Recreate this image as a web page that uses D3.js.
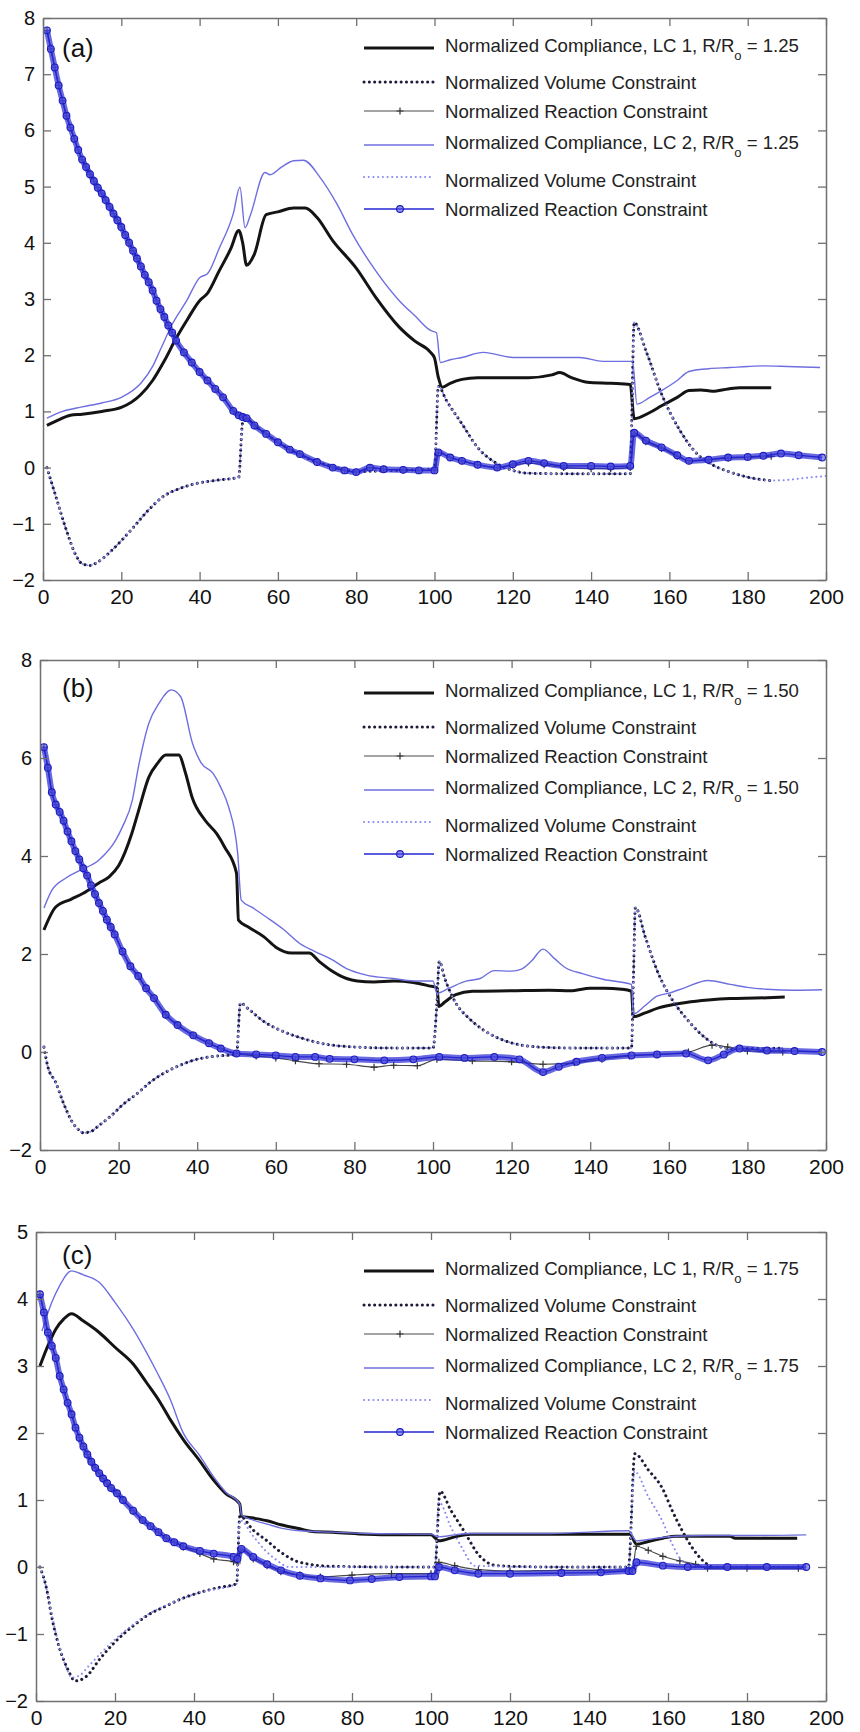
<!DOCTYPE html>
<html>
<head>
<meta charset="utf-8">
<script src="https://cdn.jsdelivr.net/npm/d3@7"></script>
<style>
  body { margin: 0; background: #fff; }
  svg { display: block; font-family: "Liberation Sans", Arial, sans-serif; }
</style>
</head>
<body>
<div id="chart"></div>
<script>
// ---- data: [iteration, normalized value] ----

// panel (a), R/Ro = 1.25
const aComp1 = [[1,0.75],[4,0.85],[7,0.93],[10,0.95],[15,1.0],[20,1.07],[25,1.3],[28,1.55],[31,1.9],[34,2.3],[37,2.65],[40,2.97],[42,3.1],[45,3.5],[48,3.9],[50,4.22],[51,4.0],[52,3.6],[54,3.8],[57,4.5],[60,4.55],[64,4.62],[67,4.62],[70,4.45],[74,4.04],[80,3.55],[85,3.03],[91,2.5],[95,2.25],[99,2.05],[100,1.95],[101,1.6],[102,1.43],[104,1.5],[107,1.57],[111,1.6],[118,1.6],[124,1.6],[130,1.65],[132,1.69],[135,1.6],[139,1.52],[145,1.5],[150,1.48],[151,0.87],[155,0.98],[158,1.1],[162,1.25],[165,1.37],[168,1.38],[171,1.36],[175,1.4],[178,1.42],[182,1.42],[186,1.42]];
const aVol1 = [[1,0],[3,-0.45],[6,-1.12],[8,-1.5],[10,-1.71],[12,-1.74],[14,-1.68],[17,-1.51],[20,-1.3],[23,-1.07],[27,-0.75],[31,-0.5],[35,-0.37],[40,-0.27],[45,-0.22],[50,-0.17],[51,0.8],[52,0.85],[55,0.7],[60,0.45],[65,0.25],[70,0.1],[75,0.0],[80,-0.07],[90,-0.05],[100,-0.03],[101,1.45],[103,1.2],[107,0.78],[111,0.36],[116,0.07],[120,-0.05],[124,-0.1],[135,-0.11],[150,-0.11],[151,2.58],[154,2.08],[158,1.31],[162.7,0.66],[167,0.25],[171,0.05],[175.5,-0.08],[180,-0.17],[185.7,-0.23]];
const aReact1 = [[1,7.78],[2,7.45],[3,7.12],[4,6.8],[5,6.53],[6,6.26],[7,6.05],[8,5.85],[9,5.65],[10,5.48],[11,5.35],[12,5.22],[13,5.1],[14,4.98],[15,4.88],[16,4.76],[17,4.64],[18,4.52],[19,4.4],[20,4.28],[21,4.14],[22,4.0],[23,3.86],[24,3.72],[25,3.58],[26,3.43],[27,3.3],[28,3.15],[29,2.97],[30,2.82],[31,2.68],[32,2.53],[33,2.4],[34,2.26],[36,2.05],[38,1.87],[40,1.7],[42,1.55],[44,1.4],[46,1.25],[48.6,1.01],[50,0.93],[51,0.9],[52,0.88],[54,0.75],[57,0.6],[60,0.45],[63,0.32],[65.6,0.24],[70,0.1],[74,0.0],[77,-0.05],[80,-0.08],[83.5,0.0],[87,-0.03],[92,-0.04],[96,-0.05],[100,-0.05],[101,0.27],[104,0.18],[107,0.12],[111,0.05],[116,0.0],[120,0.04],[124,0.08],[128,0.05],[133,0.0],[140,-0.02],[145,-0.02],[150,0.0],[151,0.6],[154,0.46],[158,0.34],[162,0.2],[165,0.12],[170,0.14],[175,0.17],[180,0.18],[186,0.2]];
const aComp2 = [[1,0.88],[5,1.0],[10,1.08],[15,1.15],[20,1.25],[25,1.5],[28,1.8],[30,2.1],[33,2.55],[36.7,2.97],[40,3.38],[42,3.45],[45,3.9],[48.6,4.52],[50.3,4.99],[51.6,4.27],[53,4.5],[56.7,5.25],[58,5.21],[61,5.35],[64,5.46],[66.5,5.47],[70.8,5.16],[75,4.7],[79,4.16],[85,3.5],[91,2.97],[95,2.7],[99,2.44],[100.5,2.4],[101.5,1.87],[104,1.92],[107,1.96],[112.5,2.05],[120,1.96],[130,1.96],[137,1.96],[143,1.89],[150.6,1.89],[151.7,1.13],[155,1.25],[158,1.37],[162,1.55],[165,1.71],[170,1.76],[175.5,1.78],[180,1.8],[184,1.81],[190,1.8],[198.5,1.78]];
const aVol2 = [[1,0],[3,-0.45],[6,-1.12],[8,-1.5],[10,-1.71],[12,-1.74],[14,-1.68],[17,-1.51],[20,-1.3],[23,-1.07],[27,-0.75],[31,-0.5],[35,-0.37],[40,-0.27],[45,-0.22],[50,-0.17],[51,0.8],[52,0.85],[55,0.7],[60,0.45],[65,0.25],[70,0.1],[75,0.0],[80,-0.07],[90,-0.05],[100,-0.03],[101,1.45],[103,1.2],[107,0.78],[111,0.36],[116,0.07],[120,-0.05],[124,-0.1],[135,-0.11],[150,-0.11],[151,2.58],[154,2.08],[158,1.31],[162.7,0.66],[167,0.25],[171,0.05],[175.5,-0.08],[180,-0.17],[185.7,-0.23],[190,-0.22],[195,-0.18],[200,-0.15]];
const aReact2 = [[1,7.78],[2,7.45],[3,7.12],[4,6.8],[5,6.53],[6,6.26],[7,6.05],[8,5.85],[9,5.65],[10,5.48],[11,5.35],[12,5.22],[13,5.1],[14,4.98],[15,4.88],[16,4.76],[17,4.64],[18,4.52],[19,4.4],[20,4.28],[21,4.14],[22,4.0],[23,3.86],[24,3.72],[25,3.58],[26,3.43],[27,3.3],[28,3.15],[29,2.97],[30,2.82],[31,2.68],[32,2.53],[33,2.4],[34,2.26],[36,2.05],[38,1.87],[40,1.7],[42,1.55],[44,1.4],[46,1.25],[48.6,1.01],[50,0.93],[51,0.9],[52,0.88],[54,0.75],[57,0.6],[60,0.45],[63,0.32],[65.6,0.24],[70,0.1],[74,0.0],[77,-0.05],[80,-0.08],[83.5,0.0],[87,-0.03],[92,-0.04],[96,-0.05],[100,-0.05],[101,0.27],[104,0.18],[107,0.12],[111,0.05],[116,0.0],[120,0.06],[124,0.12],[128,0.08],[133,0.03],[140,0.03],[145,0.02],[150,0.03],[151,0.62],[154,0.48],[158,0.36],[162,0.22],[165,0.12],[170,0.14],[175,0.18],[180,0.19],[184,0.21],[188.5,0.25],[193,0.22],[199,0.18]];

// panel (b), R/Ro = 1.50
const bComp1 = [[1,2.49],[4,2.96],[8,3.12],[11,3.24],[15,3.45],[17.5,3.57],[20,3.8],[23.4,4.47],[25,4.9],[27.7,5.61],[30,5.9],[32,6.06],[35.3,6.06],[37,5.7],[38.7,5.2],[42,4.73],[45,4.45],[47,4.18],[50,3.65],[50.5,2.69],[53,2.55],[57,2.35],[60,2.14],[64,2.02],[68.5,2.02],[71,1.85],[74,1.67],[78,1.5],[80.7,1.45],[85,1.43],[90,1.45],[95,1.42],[99,1.35],[101,1.31],[101.5,0.93],[103,1.02],[105.8,1.17],[110,1.24],[120,1.25],[129.5,1.26],[135,1.25],[140,1.3],[143.5,1.3],[148,1.28],[150.5,1.24],[151,0.72],[154,0.8],[157.4,0.9],[160,0.95],[164.4,1.01],[170,1.06],[175.6,1.09],[182,1.1],[189.5,1.12]];
const bVol1 = [[1,0.1],[2,-0.3],[4,-0.62],[6,-1.05],[8,-1.4],[10,-1.6],[11,-1.65],[13,-1.62],[15,-1.5],[18,-1.31],[21,-1.08],[25,-0.83],[28,-0.62],[32,-0.41],[36,-0.26],[39,-0.17],[44,-0.09],[50,-0.05],[51,1.0],[53,0.88],[57,0.62],[61,0.45],[66.7,0.28],[72,0.17],[80.7,0.1],[90,0.08],[100,0.08],[101,1.0],[101.6,1.85],[103,1.5],[105.8,1.0],[109,0.7],[112.8,0.45],[117,0.27],[122.5,0.14],[130,0.09],[136.5,0.08],[150.5,0.08],[151,1.5],[151.5,2.95],[154,2.35],[157.4,1.59],[161,1.05],[164.4,0.69],[168,0.38],[171.4,0.17],[175.6,0.07],[182,0.07],[189,0.08]];
const bReact1 = [[1,6.22],[2,5.8],[3,5.3],[4,5.05],[5,4.9],[6,4.72],[7,4.5],[8,4.3],[9,4.1],[10,3.93],[11,3.75],[12,3.6],[13,3.4],[14,3.22],[15,3.04],[16,2.88],[17,2.7],[18,2.55],[19,2.4],[21,2.05],[23,1.75],[25,1.55],[27,1.3],[29,1.1],[32,0.76],[35,0.55],[39,0.34],[43,0.18],[46,0.07],[50,-0.03],[55,-0.08],[60,-0.12],[65,-0.18],[71,-0.24],[78,-0.25],[85,-0.31],[90,-0.27],[96,-0.28],[101,-0.15],[110,-0.18],[120,-0.2],[128,-0.25],[136,-0.22],[143,-0.15],[150,-0.08],[157,-0.05],[165,0.0],[171,0.14],[175,0.1],[180,0.02],[189,0.0]];
const bComp2 = [[1,2.94],[3,3.3],[6.6,3.55],[10,3.7],[15,3.92],[19.3,4.33],[21,4.6],[23.5,5.14],[25,5.8],[27.7,6.71],[30.3,7.12],[33.4,7.39],[35.8,7.25],[38.8,6.3],[41,5.9],[44,5.69],[46,5.4],[48,5.0],[50.3,4.06],[51.2,3.1],[54,2.95],[57.5,2.76],[62,2.5],[66,2.22],[70,2.05],[74.4,1.88],[78,1.7],[83,1.57],[90,1.5],[95,1.45],[100,1.45],[101,1.2],[104,1.3],[108.6,1.45],[112,1.5],[115.6,1.66],[120,1.65],[122.5,1.69],[125,1.85],[128,2.1],[131,1.9],[133.7,1.72],[138,1.6],[143.5,1.48],[150.5,1.38],[151,0.78],[154,0.95],[157,1.14],[160,1.2],[164,1.31],[170,1.46],[175.6,1.38],[180,1.32],[185,1.28],[192,1.26],[199,1.27]];
const bVol2 = [[1,0.1],[2,-0.3],[4,-0.62],[6,-1.05],[8,-1.4],[10,-1.6],[11,-1.65],[13,-1.62],[15,-1.5],[18,-1.31],[21,-1.08],[25,-0.83],[28,-0.62],[32,-0.41],[36,-0.26],[39,-0.17],[44,-0.09],[50,-0.05],[51,1.0],[53,0.88],[57,0.62],[61,0.45],[66.7,0.28],[72,0.17],[80.7,0.1],[90,0.08],[100,0.08],[101,1.0],[101.6,1.85],[103,1.5],[105.8,1.0],[109,0.7],[112.8,0.45],[117,0.27],[122.5,0.14],[130,0.09],[136.5,0.08],[150.5,0.08],[151,1.5],[151.5,2.95],[154,2.35],[157.4,1.59],[161,1.05],[164.4,0.69],[168,0.38],[171.4,0.17],[175.6,0.07],[182,0.07],[189,0.08]];
const bReact2 = [[1,6.22],[2,5.8],[3,5.3],[4,5.05],[5,4.9],[6,4.72],[7,4.5],[8,4.3],[9,4.1],[10,3.93],[11,3.75],[12,3.6],[13,3.4],[14,3.22],[15,3.04],[16,2.88],[17,2.7],[18,2.55],[19,2.4],[21,2.05],[23,1.75],[25,1.55],[27,1.3],[29,1.1],[32,0.76],[35,0.55],[39,0.34],[43,0.18],[46,0.07],[50,-0.03],[55,-0.05],[60,-0.07],[65,-0.1],[70,-0.1],[73.7,-0.14],[80,-0.15],[87.6,-0.17],[95,-0.15],[101.6,-0.1],[108,-0.12],[115.6,-0.1],[122,-0.15],[128,-0.41],[132,-0.3],[136.5,-0.2],[143,-0.12],[150.5,-0.07],[157,-0.05],[164.4,-0.03],[170,-0.17],[174,-0.05],[178,0.07],[185,0.03],[192,0.02],[199,0.0]];

// panel (c), R/Ro = 1.75
const cComp1 = [[1,3.0],[3,3.3],[5,3.55],[7,3.7],[9,3.78],[12,3.67],[16,3.5],[20,3.28],[24.6,3.03],[28,2.75],[31.4,2.46],[34,2.2],[37.2,1.91],[41.5,1.58],[44.8,1.31],[48,1.1],[51.6,0.94],[52,0.76],[55,0.73],[58.5,0.69],[62,0.63],[66.8,0.57],[70,0.53],[75,0.52],[83.7,0.49],[90,0.48],[100,0.48],[102,0.39],[106,0.45],[110,0.49],[130,0.49],[150.4,0.49],[152,0.34],[155,0.38],[158.7,0.43],[162,0.46],[170,0.46],[175.7,0.46],[177,0.43],[185,0.43],[192.7,0.43]];
const cVol1 = [[1,0],[2.7,-0.33],[4,-0.75],[6,-1.22],[8,-1.52],[9.9,-1.7],[12.8,-1.63],[16.2,-1.37],[20,-1.12],[24.6,-0.88],[28,-0.73],[33,-0.58],[37,-0.47],[41.5,-0.38],[46,-0.31],[50.8,-0.25],[51.6,0.76],[55,0.55],[58.5,0.39],[62,0.22],[66.8,0.07],[75,0.01],[90,0.0],[101,0.0],[102.3,1.13],[105,0.85],[108,0.57],[112.4,0.16],[116.7,0.02],[130,0.0],[150,0.0],[151.6,1.69],[155,1.45],[158.7,1.16],[161,0.85],[163.8,0.52],[166,0.3],[168.9,0.09],[171,0.0]];
const cReact1 = [[1,4.07],[2,3.8],[3,3.5],[4,3.3],[5,3.12],[6,2.85],[7,2.65],[8,2.45],[9,2.28],[10,2.08],[11,1.93],[12,1.8],[13,1.68],[14,1.57],[15,1.48],[16,1.4],[17,1.32],[18,1.25],[19,1.18],[20.5,1.1],[22,1.0],[24.6,0.84],[27,0.7],[29,0.61],[31,0.52],[33,0.43],[35,0.37],[37.3,0.3],[41.5,0.2],[45,0.12],[50,0.08],[51,0.06],[52,0.25],[55,0.12],[58.5,0.02],[62,-0.07],[66.8,-0.12],[72,-0.15],[80,-0.12],[90,-0.1],[100,-0.1],[101,-0.1],[102,0.07],[106,0.02],[112,-0.04],[120,-0.06],[133,-0.05],[143,-0.05],[150,-0.04],[151,-0.04],[152,0.31],[155,0.25],[158.7,0.16],[163,0.09],[167,0.04],[170,-0.02],[180,-0.02],[193,-0.02]];
const cComp2 = [[1.5,3.52],[4,3.95],[6,4.2],[9,4.42],[12,4.36],[16,4.25],[20,3.95],[24.6,3.55],[28,3.2],[30.6,2.91],[34,2.5],[37.2,2.01],[41.5,1.66],[44.8,1.36],[48,1.12],[51.6,0.94],[52,0.78],[55,0.7],[58.5,0.64],[62,0.58],[66.8,0.54],[75,0.52],[83.7,0.5],[100,0.49],[102,0.45],[106,0.48],[110,0.5],[130,0.5],[150,0.54],[152,0.39],[156,0.42],[162,0.46],[170,0.47],[180,0.47],[195,0.48]];
const cVol2 = [[1,0],[2.7,-0.33],[4,-0.72],[6,-1.2],[8,-1.55],[9,-1.65],[11,-1.62],[13,-1.5],[16.2,-1.3],[20,-1.08],[24.6,-0.86],[28,-0.72],[33,-0.57],[41.5,-0.38],[50.8,-0.25],[51.6,0.7],[55,0.46],[58,0.25],[61,0.1],[64,0.0],[80,0.0],[101,0.0],[102,0.97],[105,0.6],[108,0.27],[111,0.02],[130,0.0],[150,0.0],[151.5,1.43],[155,1.05],[158.7,0.67],[161,0.35],[163.8,0.07],[166,0.0],[195,0.0]];
const cReact2 = [[1,4.07],[2,3.8],[3,3.5],[4,3.3],[5,3.12],[6,2.85],[7,2.65],[8,2.45],[9,2.28],[10,2.08],[11,1.93],[12,1.8],[13,1.68],[14,1.57],[15,1.48],[16,1.4],[17,1.32],[18,1.25],[19,1.18],[20.5,1.1],[22,1.0],[24.6,0.84],[27,0.7],[29,0.61],[31,0.52],[33,0.43],[35,0.37],[37.3,0.31],[41.5,0.24],[45,0.2],[50,0.15],[51,0.12],[52,0.27],[55,0.15],[58.5,0.04],[62,-0.05],[66.8,-0.13],[72,-0.17],[79.5,-0.2],[85,-0.18],[92,-0.15],[100,-0.14],[101,-0.14],[102,0.0],[106,-0.05],[112,-0.1],[120,-0.1],[133,-0.09],[143,-0.08],[150,-0.06],[151,-0.06],[152,0.07],[158.7,0.02],[165,0.0],[175,0.0],[185,0.0],[195,0.0]];

// axis ticks and legend text
const xTicks = [0, 20, 40, 60, 80, 100, 120, 140, 160, 180, 200];
const legendLabels = [
  "Normalized Compliance, LC 1, R/R",
  "Normalized Volume Constraint",
  "Normalized Reaction Constraint",
  "Normalized Compliance, LC 2, R/R",
  "Normalized Volume Constraint",
  "Normalized Reaction Constraint",
];

// panel layout (pixel boxes) + which arrays go where
const panels = [
  { tag: "(a)", ratio: "1.25", left: 43, right: 826, top: 18, bottom: 580,
    yDomain: [-2, 8], yTicks: d3.range(-2, 9, 1), labelY: 39, legendY: 27,
    series: [aComp1, aVol1, aReact1, aComp2, aVol2, aReact2] },
  { tag: "(b)", ratio: "1.50", left: 40, right: 826, top: 660, bottom: 1150,
    yDomain: [-2, 8], yTicks: d3.range(-2, 9, 2), labelY: 37, legendY: 30,
    series: [bComp1, bVol1, bReact1, bComp2, bVol2, bReact2] },
  { tag: "(c)", ratio: "1.75", left: 36, right: 826, top: 1232, bottom: 1701,
    yDomain: [-2, 5], yTicks: d3.range(-2, 6, 1), labelY: 32, legendY: 36,
    series: [cComp1, cVol1, cReact1, cComp2, cVol2, cReact2] },
];

// line styles, in legend order
const styles = [
  { stroke: "#141414", width: 3 },
  { stroke: "#1c1c38", width: 3, dash: "0.1,5.2" },
  { stroke: "#4a4a4a", width: 1.2, marker: "plus" },
  { stroke: "#6e6ee0", width: 1.4 },
  { stroke: "#8a8af2", width: 2, dash: "0.1,4.6" },
  { stroke: "#2424d2", width: 1.3, marker: "circle", band: true },
];
const legendRowOffsets = [0, 37, 66, 97, 135, 164];
const legendLineShift = [3, 0, 0, 3, -3, 0];

const svg = d3
  .select("#chart")
  .append("svg")
  .attr("width", 860)
  .attr("height", 1732);

function drawMarker(sel, kind, cx, cy) {
  if (kind === "plus") {
    sel
      .append("path")
      .attr("d", `M${cx - 3.5},${cy}H${cx + 3.5}M${cx},${cy - 3.5}V${cy + 3.5}`)
      .attr("stroke", "#333")
      .attr("stroke-width", 1.2);
  } else if (kind === "circle") {
    sel
      .append("circle")
      .attr("cx", cx)
      .attr("cy", cy)
      .attr("r", 3.4)
      .attr("fill", "#5050dc")
      .attr("fill-opacity", 0.6)
      .attr("stroke", "#1c1cc4")
      .attr("stroke-width", 1.1);
  }
}

panels.forEach((p, pi) => {
  const x = d3.scaleLinear().domain([0, 200]).range([p.left, p.right]);
  const y = d3.scaleLinear().domain(p.yDomain).range([p.bottom, p.top]);
  const g = svg.append("g");

  const clipId = "clip" + pi;
  svg
    .append("clipPath")
    .attr("id", clipId)
    .append("rect")
    .attr("x", p.left)
    .attr("y", p.top)
    .attr("width", p.right - p.left)
    .attr("height", p.bottom - p.top);

  const plot = g.append("g").attr("clip-path", `url(#${clipId})`);
  const line = d3
    .line()
    .curve(d3.curveMonotoneX)
    .x((d) => x(d[0]))
    .y((d) => y(d[1]));

  p.series.forEach((data, si) => {
    const s = styles[si];
    if (s.band) {
      // dense markers in the original read as a thick band
      plot
        .append("path")
        .attr("d", line(data))
        .attr("fill", "none")
        .attr("stroke", "#2a2ad2")
        .attr("stroke-opacity", 0.7)
        .attr("stroke-width", 6)
        .attr("stroke-linejoin", "round");
    }
    plot
      .append("path")
      .attr("d", line(data))
      .attr("fill", "none")
      .attr("stroke", s.stroke)
      .attr("stroke-width", s.width)
      .attr("stroke-dasharray", s.dash || null)
      .attr("stroke-linecap", s.dash ? "round" : "butt")
      .attr("stroke-linejoin", "round");
    if (s.marker) {
      const mg = plot.append("g");
      data.forEach((d) => drawMarker(mg, s.marker, x(d[0]), y(d[1])));
    }
  });

  // box axes with inward ticks
  const axisStyle = (sel) => {
    sel.select(".domain").attr("stroke", "#707070").attr("stroke-width", 1.5);
    sel.selectAll(".tick line").attr("stroke", "#707070").attr("stroke-width", 1.3);
    sel
      .selectAll(".tick text")
      .attr("fill", "#111")
      .style("font-size", "20px");
  };

  g.append("g")
    .attr("transform", `translate(0,${p.bottom})`)
    .call(d3.axisBottom(x).tickValues(xTicks).tickSizeInner(-8).tickSizeOuter(0).tickPadding(9))
    .call(axisStyle)
    .selectAll(".tick text")
    .style("font-size", "21px");
  g.append("g")
    .attr("transform", `translate(0,${p.top})`)
    .call(d3.axisTop(x).tickValues(xTicks).tickSizeInner(-8).tickSizeOuter(0).tickFormat(""))
    .call(axisStyle);
  g.append("g")
    .attr("transform", `translate(${p.left},0)`)
    .call(d3.axisLeft(y).tickValues(p.yTicks).tickSizeInner(-8).tickSizeOuter(0).tickPadding(8).tickFormat(d3.format("d")))
    .call(axisStyle);
  g.append("g")
    .attr("transform", `translate(${p.right},0)`)
    .call(d3.axisRight(y).tickValues(p.yTicks).tickSizeInner(-8).tickSizeOuter(0).tickFormat(""))
    .call(axisStyle);
  g.selectAll("g").attr("font-family", null);

  // panel tag
  g.append("text")
    .attr("x", 62)
    .attr("y", p.top + p.labelY)
    .style("font-size", "26px")
    .attr("fill", "#111")
    .text(p.tag);

  // legend
  const lg = g.append("g");
  legendLabels.forEach((label, i) => {
    const s = styles[i];
    const cy = p.top + p.legendY + legendRowOffsets[i];
    const ly = cy + legendLineShift[i];
    lg.append("line")
      .attr("x1", 364)
      .attr("x2", 434)
      .attr("y1", ly)
      .attr("y2", ly)
      .attr("stroke", s.stroke)
      .attr("stroke-width", s.width)
      .attr("stroke-dasharray", s.dash || null)
      .attr("stroke-linecap", s.dash ? "round" : "butt");
    if (s.marker) drawMarker(lg, s.marker, 400, ly);

    const t = lg
      .append("text")
      .attr("x", 445)
      .attr("y", cy + 7)
      .attr("fill", "#222")
      .style("font-size", "18.6px")
      .text(label);
    if (i === 0 || i === 3) {
      t.append("tspan").attr("dy", 8).style("font-size", "13px").text("o");
      t.append("tspan").attr("dy", -8).text(" = " + p.ratio);
    }
  });
});
</script>
</body>
</html>
